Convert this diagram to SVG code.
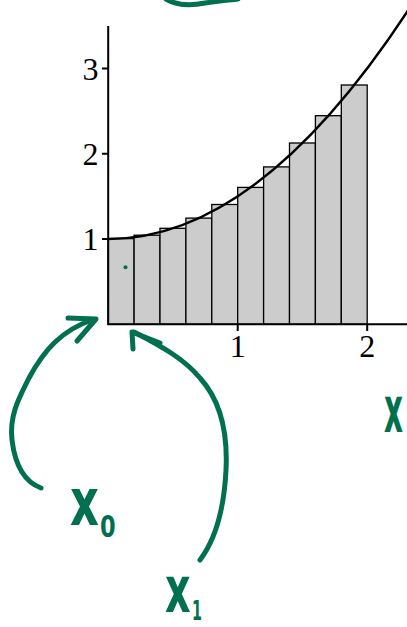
<svg xmlns="http://www.w3.org/2000/svg" width="407" height="627" viewBox="0 0 407 627">
<style>
.bar{fill:#cccccc;stroke:#000;stroke-width:1.3}
.axis{stroke:#000;stroke-width:2;fill:none}
.curve{stroke:#000;stroke-width:2.5;fill:none}
.num{font-family:"Liberation Serif","Times New Roman",serif;font-size:32px;fill:#000;text-anchor:middle}
.ink{stroke:#00704f;stroke-width:5;fill:none;stroke-linecap:round;stroke-linejoin:round}
.hand{font-family:"DejaVu Sans",sans-serif;font-weight:bold;fill:#00704f}
</style>
<rect width="407" height="627" fill="#fff"/>
<g id="bars">
<rect class="bar" x="108.2" y="238.6" width="25.9" height="85.7"/>
<rect class="bar" x="134.1" y="235.2" width="25.9" height="89.1"/>
<rect class="bar" x="160.0" y="228.3" width="25.9" height="96.0"/>
<rect class="bar" x="185.9" y="218.1" width="25.9" height="106.2"/>
<rect class="bar" x="211.8" y="204.5" width="25.9" height="119.8"/>
<rect class="bar" x="237.7" y="187.4" width="25.9" height="136.9"/>
<rect class="bar" x="263.6" y="166.9" width="25.9" height="157.4"/>
<rect class="bar" x="289.5" y="143.0" width="25.9" height="181.3"/>
<rect class="bar" x="315.4" y="115.7" width="25.9" height="208.6"/>
<rect class="bar" x="341.3" y="85.0" width="25.9" height="239.3"/>
</g>
<g id="curve">
<path class="curve" d="M108.2,239 Q259.1,239 410,7.4"/>
</g>
<g id="axes">
<path class="axis" d="M108.2,26 V325.3 M107.2,324.3 H407"/>
<path class="axis" d="M102,239 H108 M102,153.7 H108 M102,68.4 H108 M237.7,324 V331 M367.2,324 V331"/>
<text class="num" x="90.5" y="250">1</text>
<text class="num" x="90.5" y="164.7">2</text>
<text class="num" x="90.5" y="79.5">3</text>
<text class="num" x="237.7" y="356.5">1</text>
<text class="num" x="367.2" y="356.5">2</text>
</g>
<g id="connectors">
<path class="ink" d="M166,-1 C176,5 190,6 205,3 C220,1 230,0 238,-1"/>
<path class="ink" d="M41,488 C25,482 15,465 12,440 C9,415 20,396 29,378 C44,350 62,330 92,320"/>
<path class="ink" d="M68,318 L96,319 L77,341"/>
<path class="ink" d="M200,560 C215,540 224,510 226,470 C228,430 220,400 200,378 C185,360 165,348 134,332"/>
<path class="ink" d="M133,349 L132,332 L160,343"/>
<circle cx="125.5" cy="267.3" r="2" fill="#00704f"/>
</g>
<g id="label-x0">
<text class="hand" font-size="66" transform="translate(70,525) scale(0.68,1)">x</text>
<text class="hand" font-size="30" transform="translate(100,537) scale(0.75,1)">0</text>
</g>
<g id="label-x1">
<text class="hand" font-size="64" transform="translate(165,612) scale(0.62,1)">x</text>
<text class="hand" font-size="26" transform="translate(192,620) scale(0.55,1)">1</text>
</g>
<g id="label-x2">
<text class="hand" font-size="64" transform="translate(384,432) scale(0.46,1)">x</text>
</g>
</svg>
